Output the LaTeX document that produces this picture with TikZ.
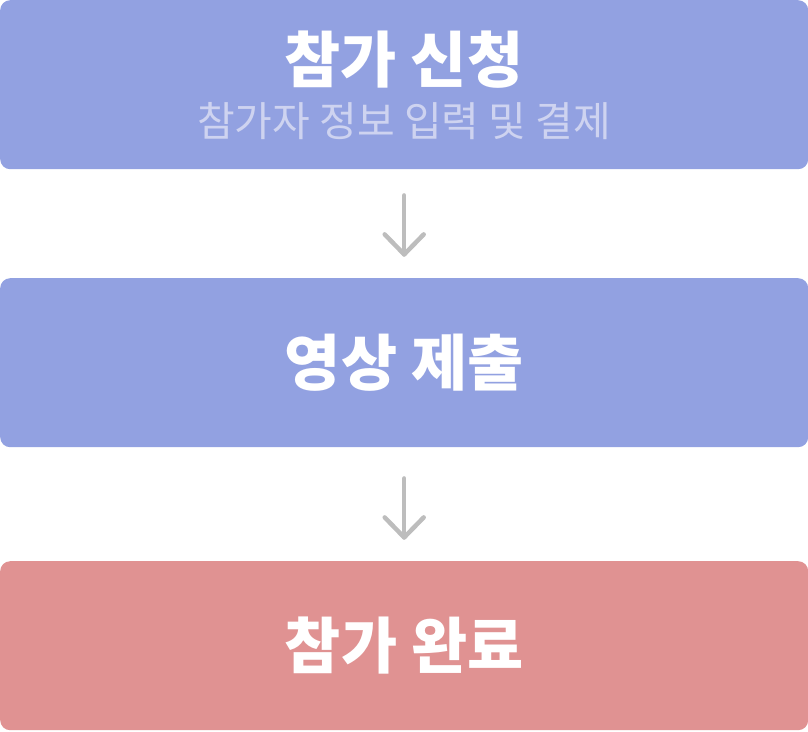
\documentclass[tikz,border=0pt]{standalone}
\usepackage{fontspec}
\newfontfamily\kr{Noto Sans CJK KR}
\usetikzlibrary{positioning}
\definecolor{stepblue}{HTML}{92A1E1}
\definecolor{stepred}{HTML}{E09292}
\definecolor{subtext}{HTML}{CED3F0}
\definecolor{arrowgray}{HTML}{BDBDBD}

\begin{document}
\begin{tikzpicture}[x=1pt,y=-1pt,
	stepbox/.style={rectangle,rounded corners=10pt,minimum width=808pt,minimum height=169pt,inner sep=0pt,anchor=north west},
	title/.style={text=white,font=\kr\bfseries\fontsize{61}{64}\selectfont},
	subtitle/.style={text=subtext,font=\kr\fontsize{41}{44}\selectfont},
	flow/.style={arrowgray,line width=4.5pt,line cap=round,line join=round}]
\useasboundingbox (0,0) rectangle (808,731);

\node[stepbox,fill=stepblue] (apply) at (0,0) {};
\node[stepbox,fill=stepblue] (submit) at (0,278) {};
\node[stepbox,fill=stepred] (done) at (0,561) {};

\node[title] (apply t) at (404,59.5) {참가 신청};
\node[subtitle] (apply s) at (404,121) {참가자 정보 입력 및 결제};
\node[title] (submit t) at (submit.center) {영상 제출};
\node[title] (done t) at (done.center) {참가 완료};

% arrows between steps
\foreach \a/\d in {apply/26,submit/31}{
	\coordinate (\a top) at ([yshift=-\d pt]\a.south);
	\coordinate (\a tip) at ([yshift=-59pt]\a top);
	\draw[flow] (\a top) -- (\a tip);
	\draw[flow] ([xshift=-19.5pt,yshift=20pt]\a tip) -- (\a tip) -- ([xshift=19.5pt,yshift=20pt]\a tip);
}
\end{tikzpicture}
\end{document}
